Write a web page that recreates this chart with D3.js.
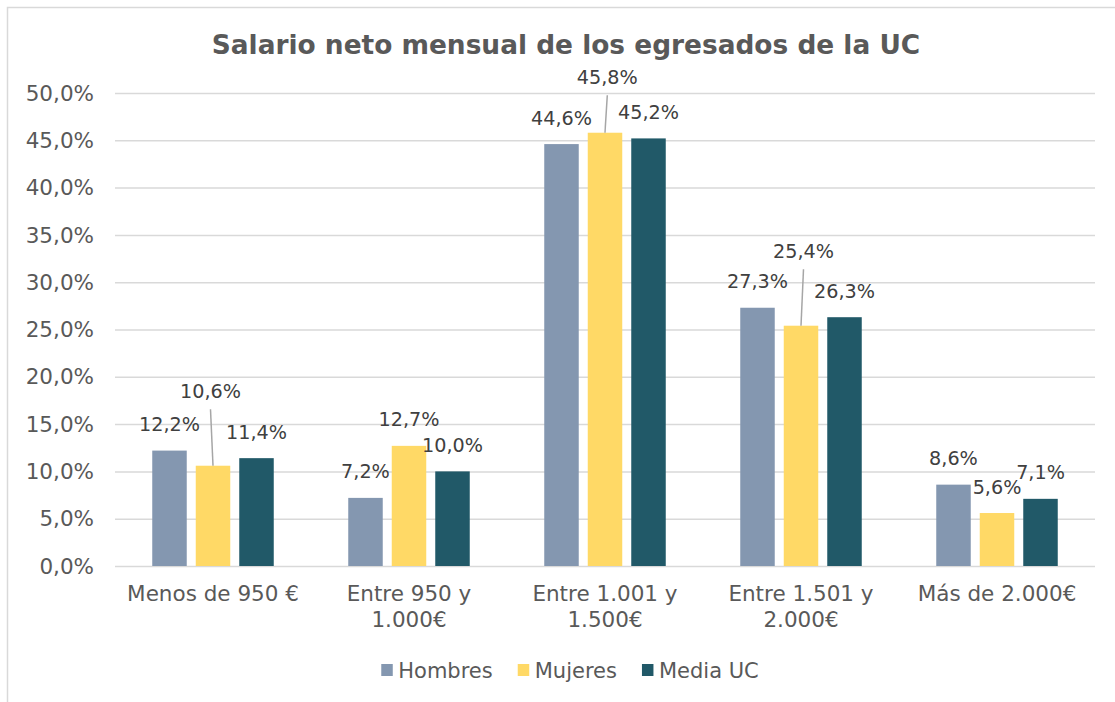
<!DOCTYPE html>
<html>
<head>
<meta charset="utf-8">
<script src="https://cdn.jsdelivr.net/npm/d3@7"></script>
<style>
  body { margin: 0; background: #fff; }
  svg { display: block; font-family: "DejaVu Sans", Verdana, sans-serif; }
</style>
</head>
<body>
<div class="visHolder"></div>
<script>
var categories = [['Menos de 950 €'], ['Entre 950 y', '1.000€'], ['Entre 1.001 y', '1.500€'], ['Entre 1.501 y', '2.000€'], ['Más de 2.000€']];
var series = ['Hombres', 'Mujeres', 'Media UC'];
var hombres = [12.2, 7.2, 44.6, 27.3, 8.6];
var mujeres = [10.6, 12.7, 45.8, 25.4, 5.6];
var mediaUC = [11.4, 10.0, 45.2, 26.3, 7.1];
var yTicks = [0, 5, 10, 15, 20, 25, 30, 35, 40, 45, 50];

var colors = ['#8497B0', '#FFD966', '#215968'];
// labels Excel moved by hand (with leader lines): [serie, categoria, dx, dy]
var movedLabels = [[1, 0, -2.5, -48], [1, 2, 2.3, -29], [1, 3, 2.5, -48]];

var width = 1115,
height = 702,
plotLeft = 115, plotRight = 1095,
plotTop = 93, plotBottom = 566;

var values = [hombres, mujeres, mediaUC];
var fmt = function(v) { return v.toFixed(1).replace('.', ',') + '%'; };

var svg = d3.select('.visHolder').append('svg')
  .attr('width', width)
  .attr('height', height);

// marco del grafico
svg.append('path')
  .attr('d', 'M7.5,' + height + 'V7.5H' + width)
  .attr('fill', 'none')
  .attr('stroke', '#D9D9D9')
  .attr('stroke-width', 1.5);

svg.append('text')
  .attr('x', 566)
  .attr('y', 54)
  .attr('text-anchor', 'middle')
  .attr('font-size', 26.4)
  .attr('font-weight', 'bold')
  .attr('fill', '#595959')
  .text('Salario neto mensual de los egresados de la UC');

var yScale = d3.scaleLinear()
  .domain([0, 50])
  .range([plotBottom, plotTop]);

var x0 = d3.scaleBand()
  .domain(d3.range(categories.length))
  .range([plotLeft, plotRight]);

var x1 = d3.scaleBand()
  .domain(d3.range(series.length))
  .range([37.25, 158.75])
  .paddingInner(0.207);

var yAxis = d3.axisLeft(yScale)
  .tickValues(yTicks)
  .tickSize(-(plotRight - plotLeft))
  .tickPadding(21)
  .tickFormat(fmt);

var yAxisGroup = svg.append('g')
  .attr('transform', 'translate(' + plotLeft + ',0)')
  .call(yAxis);
yAxisGroup.select('.domain').remove();
yAxisGroup.selectAll('line')
  .attr('stroke', '#D9D9D9')
  .attr('stroke-width', 1.5);
yAxisGroup.selectAll('text')
  .attr('font-size', 21.5)
  .attr('font-family', 'DejaVu Sans, Verdana, sans-serif')
  .attr('fill', '#595959')
  .attr('dy', '0.33em');

// etiquetas de categorias (dos lineas)
var xLabels = svg.append('g').selectAll('text')
  .data(categories)
  .enter()
  .append('text')
  .attr('text-anchor', 'middle')
  .attr('font-size', 21.5)
  .attr('fill', '#595959')
  .attr('transform', function(d, i) {
    return 'translate(' + (x0(i) + x0.bandwidth() / 2) + ',601)';
  });
xLabels.selectAll('tspan')
  .data(function(d) { return d; })
  .enter()
  .append('tspan')
  .attr('x', 0)
  .attr('y', function(d, i) { return i * 26; })
  .text(function(d) { return d; });

var groups = svg.append('g').selectAll('g')
  .data(series)
  .enter()
  .append('g')
  .attr('fill', function(d, i) { return colors[i]; });

groups.selectAll('rect')
  .data(function(d, s) {
    return values[s].map(function(v, c) { return { s: s, c: c, v: v }; });
  })
  .enter()
  .append('rect')
  .attr('x', function(d) { return x0(d.c) + x1(d.s); })
  .attr('y', function(d) { return yScale(d.v); })
  .attr('width', x1.bandwidth())
  .attr('height', function(d) { return yScale(0) - yScale(d.v); });

// etiquetas de datos
var labelData = [];
values.forEach(function(arr, s) {
  arr.forEach(function(v, c) {
    var cx = x0(c) + x1(s) + x1.bandwidth() / 2;
    var d = { s: s, c: c, v: v, barX: cx, barY: yScale(v), x: cx, y: yScale(v) - 19.5, moved: false };
    movedLabels.forEach(function(m) {
      if (m[0] === s && m[1] === c) {
        d.x += m[2];
        d.y += m[3];
        d.moved = true;
      }
    });
    labelData.push(d);
  });
});

svg.append('g').selectAll('line')
  .data(labelData.filter(function(d) { return d.moved; }))
  .enter()
  .append('line')
  .attr('x1', function(d) { return d.x; })
  .attr('y1', function(d) { return d.y + 11; })
  .attr('x2', function(d) { return d.barX; })
  .attr('y2', function(d) { return d.barY; })
  .attr('stroke', '#A6A6A6')
  .attr('stroke-width', 1.5);

svg.append('g').selectAll('text')
  .data(labelData)
  .enter()
  .append('text')
  .attr('x', function(d) { return d.x; })
  .attr('y', function(d) { return d.y; })
  .attr('text-anchor', 'middle')
  .attr('font-size', 19.2)
  .attr('fill', '#404040')
  .text(function(d) { return fmt(d.v); });

// leyenda
var legend = svg.append('g');
var lx = 0;
series.forEach(function(name, i) {
  legend.append('rect')
    .attr('x', lx)
    .attr('y', 664)
    .attr('width', 11.5)
    .attr('height', 12)
    .attr('fill', colors[i]);
  var t = legend.append('text')
    .attr('x', lx + 17)
    .attr('y', 677.5)
    .attr('font-size', 21)
    .attr('fill', '#595959')
    .text(name);
  lx += 17 + t.node().getComputedTextLength() + 25;
});
var legendWidth = lx - 25;
legend.attr('transform', 'translate(' + (570 - legendWidth / 2) + ',0)');
</script>
</body>
</html>
